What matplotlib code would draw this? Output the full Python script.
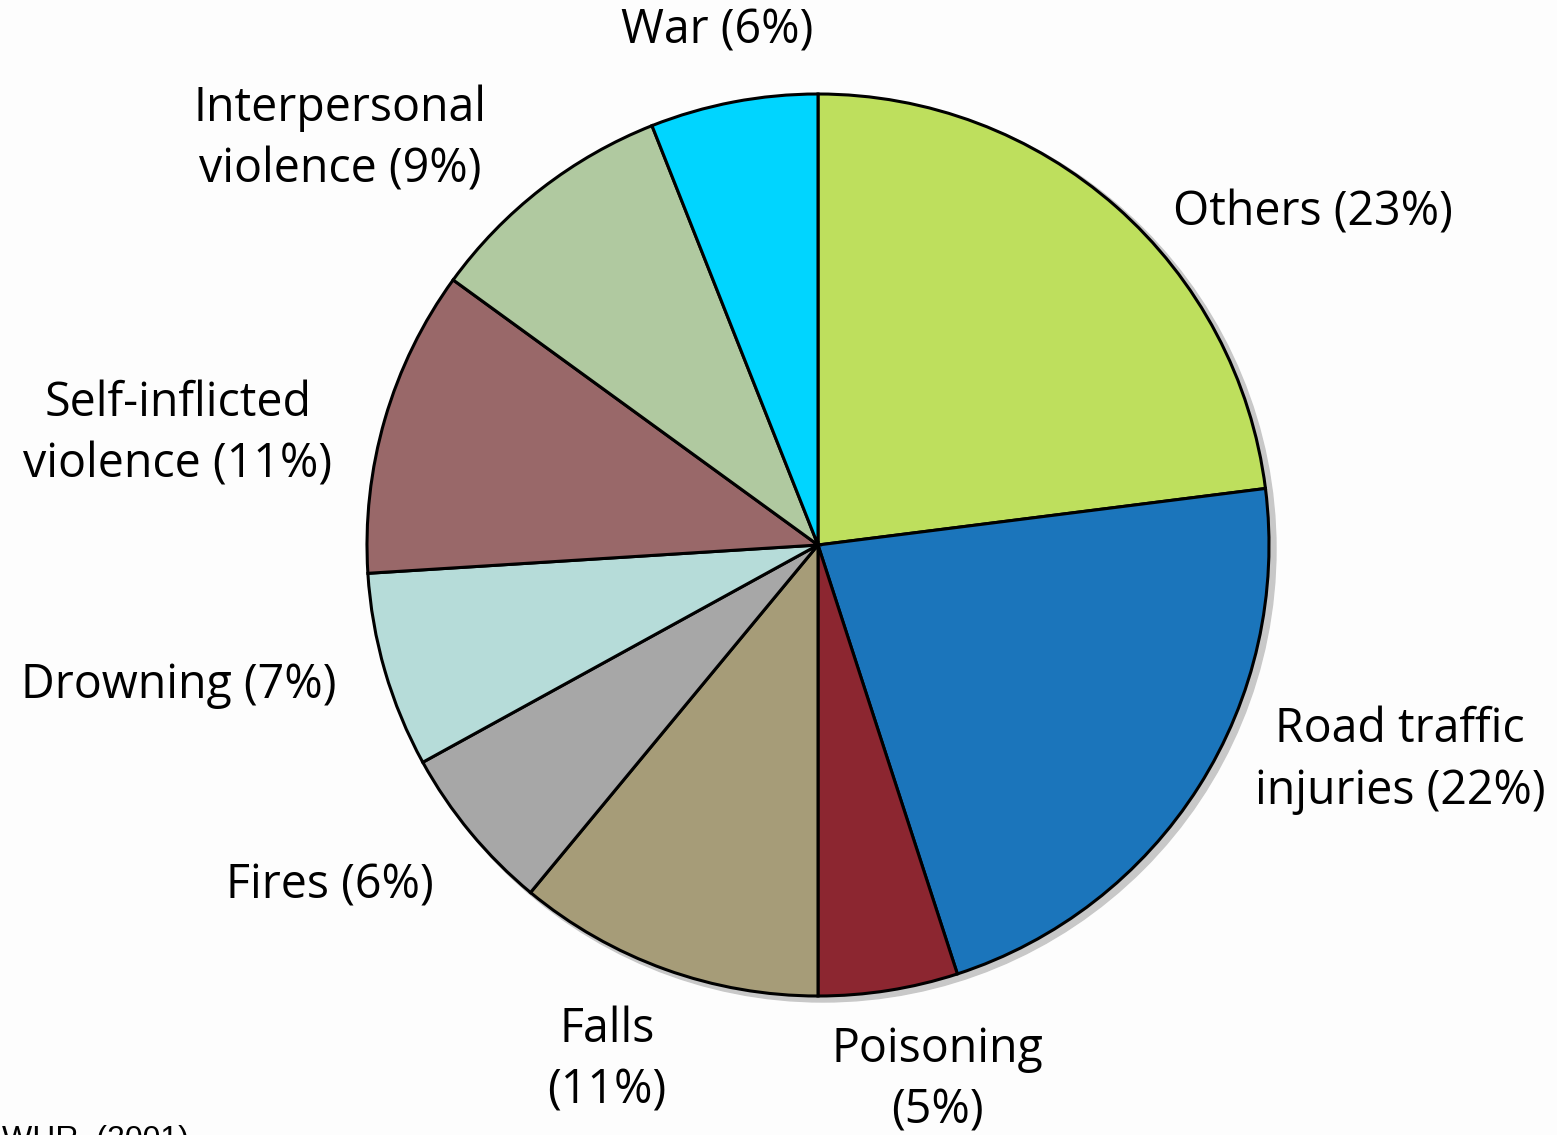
import matplotlib.pyplot as plt
from matplotlib.patches import Circle

labels = ["Others (23%)", "Road traffic\ninjuries (22%)", "Poisoning\n(5%)", "Falls\n(11%)",
          "Fires (6%)", "Drowning (7%)", "Self-inflicted\nviolence (11%)",
          "Interpersonal\nviolence (9%)", "War (6%)"]
values = [23, 22, 5, 11, 6, 7, 11, 9, 6]
colors = ["#BEDF5D", "#1B75BB", "#8C2630", "#A69C78", "#A7A7A7", "#B6DCD9",
          "#996869", "#B0C9A0", "#00D5FF"]
# label centres in pixel coords (x, y from top)
label_pos = [(1313, 213), (1400, 760), (937, 1080), (607, 1060), (330, 886),
             (179, 685), (178, 434), (340, 139), (717, 31)]

W, H = 1557, 1135
fig = plt.figure(figsize=(W / 100, H / 100), dpi=100)
fig.patch.set_facecolor("#FDFDFD")
ax = fig.add_axes([0, 0, 1, 1])

cx, cy, r = 818, H - 545, 451
ax.add_patch(Circle((cx + 5, cy - 4), r + 2, color="#C8C8C8", zorder=0))
ax.pie(values, colors=colors, startangle=90, counterclock=False, center=(cx, cy),
       radius=r, frame=True,
       wedgeprops={"edgecolor": "black", "linewidth": 2.2})
ax.set_xlim(0, W)
ax.set_ylim(0, H)
ax.set_aspect("equal")
ax.axis("off")

for lab, (x, y) in zip(labels, label_pos):
    ax.text(x, H - y, lab, ha="center", va="center", fontsize=33.5,
            family="Open Sans", linespacing=1.4, color="black")

ax.text(2, H - 1125, "WHR  (2001)", ha="left", va="top", fontsize=23,
        family="Liberation Sans", color="black")

fig.savefig("out.png", dpi=100, facecolor=fig.get_facecolor())
